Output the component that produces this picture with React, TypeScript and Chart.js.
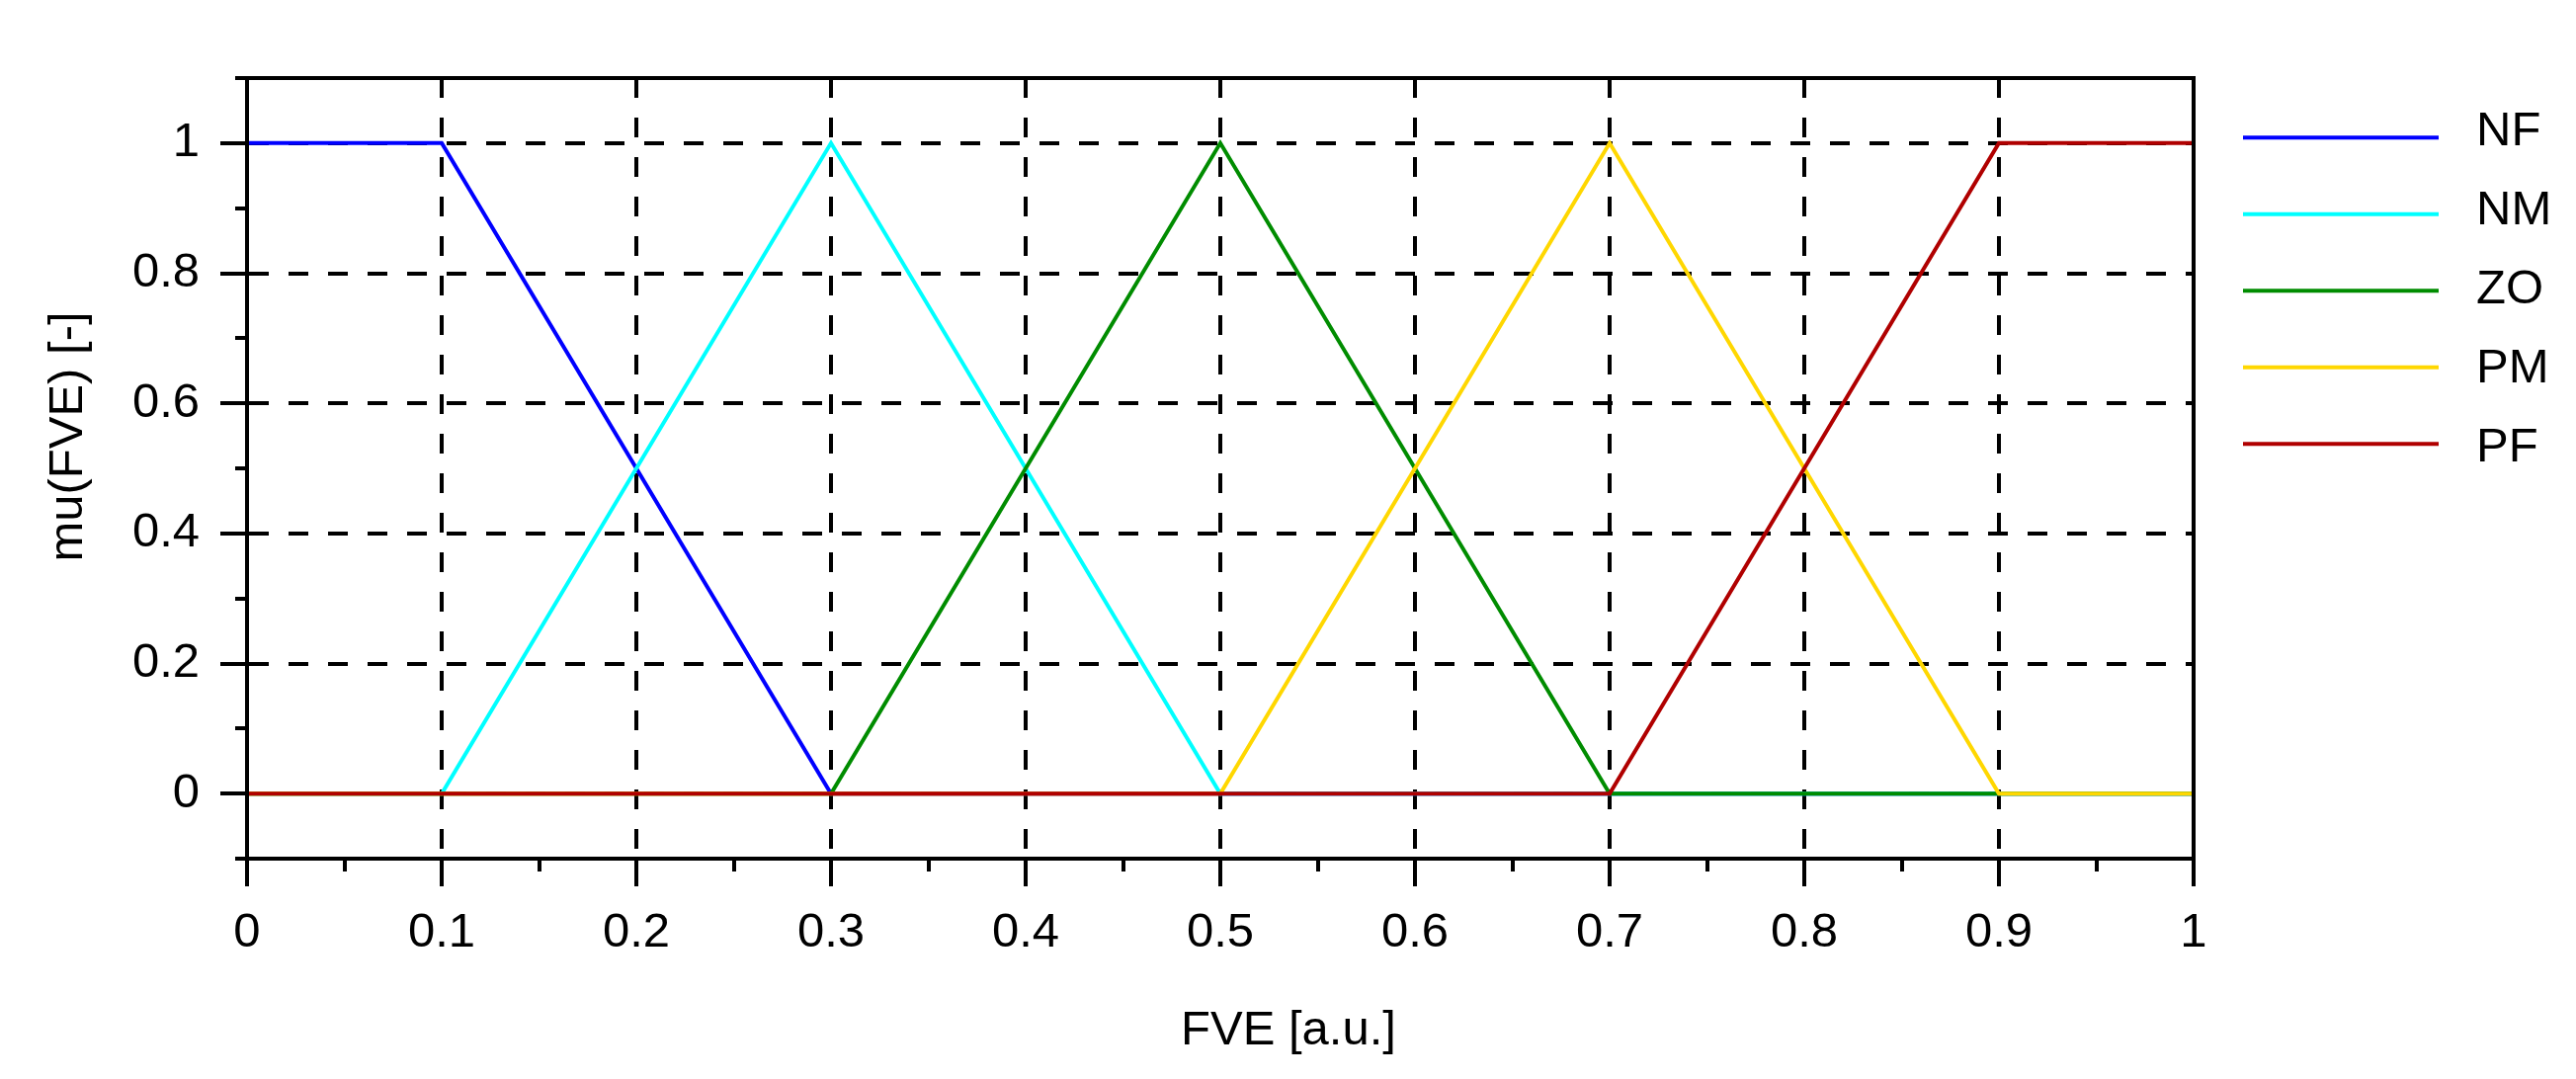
import React, { useEffect, useRef } from "react";
import { Chart, registerables } from "chart.js";

Chart.register(...registerables);

// ---- data ----
const seriesNames = ["NF", "NM", "ZO", "PM", "PF"];
const seriesColors = ["#0000ff", "#00ffff", "#008c00", "#ffd700", "#b00000"];

const xNF = [0, 0.1, 0.3, 1];
const yNF = [1, 1, 0, 0];
const xNM = [0, 0.1, 0.3, 0.5, 1];
const yNM = [0, 0, 1, 0, 0];
const xZO = [0, 0.3, 0.5, 0.7, 1];
const yZO = [0, 0, 1, 0, 0];
const xPM = [0, 0.5, 0.7, 0.9, 1];
const yPM = [0, 0, 1, 0, 0];
const xPF = [0, 0.7, 0.9, 1];
const yPF = [0, 0, 1, 1];

const xTickValues = [0, 0.1, 0.2, 0.3, 0.4, 0.5, 0.6, 0.7, 0.8, 0.9, 1];
const xTickLabels = ["0", "0.1", "0.2", "0.3", "0.4", "0.5", "0.6", "0.7", "0.8", "0.9", "1"];
const xMinorTicks = [0.05, 0.15, 0.25, 0.35, 0.45, 0.55, 0.65, 0.75, 0.85, 0.95];
const yTickValues = [0, 0.2, 0.4, 0.6, 0.8, 1];
const yTickLabels = ["0", "0.2", "0.4", "0.6", "0.8", "1"];
const yMinorTicks = [-0.1, 0.1, 0.3, 0.5, 0.7, 0.9, 1.1];

const xTitle = "FVE [a.u.]";
const yTitle = "mu(FVE) [-]";

const FONT_FAMILY = '"Liberation Sans", Arial, sans-serif';
const FONT_SIZE = 49;

function zip(xs: number[], ys: number[]) {
  return xs.map((x, i) => ({ x, y: ys[i] }));
}

const decorPlugin = {
  id: "decor",
  afterDraw(chart: any) {
    const { ctx, chartArea } = chart;
    const xs = chart.scales.x;
    const ys = chart.scales.y;
    ctx.save();
    ctx.strokeStyle = "#000";
    ctx.lineWidth = 4;
    ctx.lineCap = "butt";
    // frame top/right
    ctx.beginPath();
    ctx.moveTo(chartArea.left - 12, chartArea.top);
    ctx.lineTo(chartArea.right + 2, chartArea.top);
    ctx.moveTo(chartArea.right, chartArea.top - 2);
    ctx.lineTo(chartArea.right, chartArea.bottom + 2);
    ctx.stroke();
    // minor ticks x
    ctx.beginPath();
    xMinorTicks.forEach((v) => {
      const px = Math.round(xs.getPixelForValue(v));
      ctx.moveTo(px, chartArea.bottom);
      ctx.lineTo(px, chartArea.bottom + 13);
    });
    // minor ticks y
    yMinorTicks.forEach((v) => {
      const py = Math.round(ys.getPixelForValue(v));
      ctx.moveTo(chartArea.left, py);
      ctx.lineTo(chartArea.left - 12, py);
    });
    ctx.stroke();

    // axis titles
    ctx.fillStyle = "#000";
    ctx.font = `${FONT_SIZE}px ${FONT_FAMILY}`;
    ctx.textAlign = "center";
    ctx.textBaseline = "alphabetic";
    ctx.fillText(xTitle, 1304, 1057);
    ctx.save();
    ctx.translate(83, 442);
    ctx.rotate(-Math.PI / 2);
    ctx.fillText(yTitle, 0, 0);
    ctx.restore();

    // legend
    ctx.textAlign = "left";
    seriesNames.forEach((name, i) => {
      const ly = 139.3 + i * 77.5;
      ctx.strokeStyle = seriesColors[i];
      ctx.lineWidth = 4;
      ctx.beginPath();
      ctx.moveTo(2270, ly);
      ctx.lineTo(2468, ly);
      ctx.stroke();
      ctx.fillStyle = "#000";
      ctx.fillText(name, 2506, 147 + i * 80);
    });
    ctx.restore();
  },
};

export default function App() {
  const canvasRef = useRef<HTMLCanvasElement | null>(null);

  useEffect(() => {
    document.body.style.margin = "0";
    document.body.style.overflow = "hidden";
    const canvas = canvasRef.current;
    if (!canvas) return;
    const xsets = [xNF, xNM, xZO, xPM, xPF];
    const ysets = [yNF, yNM, yZO, yPM, yPF];
    const chart = new Chart(canvas, {
      type: "line",
      data: {
        datasets: seriesNames.map((name, i) => ({
          label: name,
          data: zip(xsets[i], ysets[i]),
          borderColor: seriesColors[i],
          backgroundColor: seriesColors[i],
          borderWidth: 4,
          pointRadius: 0,
          tension: 0,
          fill: false,
          order: seriesNames.length - i,
        })),
      },
      options: {
        responsive: false,
        animation: false,
        devicePixelRatio: 1,
        layout: { padding: { left: 0, top: 79, right: 387, bottom: 0 } },
        plugins: {
          legend: { display: false },
          tooltip: { enabled: false },
          title: { display: false },
        },
        scales: {
          x: {
            type: "linear",
            min: 0,
            max: 1,
            afterBuildTicks: (scale: any) => {
              scale.ticks = xTickValues.map((v) => ({ value: v }));
            },
            afterFit: (scale: any) => {
              scale.height = 223;
            },
            ticks: {
              autoSkip: false,
              maxRotation: 0,
              minRotation: 0,
              padding: 18,
              color: "#000",
              font: { family: FONT_FAMILY, size: FONT_SIZE, lineHeight: 1.2 },
              callback: (_v: any, i: number) => xTickLabels[i],
            },
            grid: {
              color: (ctx: any) =>
                ctx.tick && (ctx.tick.value <= 0 || ctx.tick.value >= 1) ? "rgba(0,0,0,0)" : "#000",
              lineWidth: 4,
              tickLength: 28,
              tickWidth: 4,
              tickColor: "#000",
            },
            border: { display: true, color: "#000", width: 4, dash: [20, 20], z: 1 },
          },
          y: {
            type: "linear",
            min: -0.1,
            max: 1.1,
            afterBuildTicks: (scale: any) => {
              scale.ticks = yTickValues.map((v) => ({ value: v }));
            },
            afterFit: (scale: any) => {
              scale.width = 250;
            },
            ticks: {
              padding: 21,
              color: "#000",
              font: { family: FONT_FAMILY, size: FONT_SIZE, lineHeight: 1.2 },
              callback: (_v: any, i: number) => yTickLabels[i],
            },
            grid: {
              color: "#000",
              lineWidth: 4,
              tickLength: 27,
              tickWidth: 4,
              tickColor: "#000",
            },
            border: { display: true, color: "#000", width: 4, dash: [20, 20], z: 1 },
          },
        },
      },
      plugins: [decorPlugin],
    } as any);
    return () => chart.destroy();
  }, []);

  return (
    <div style={{ position: "absolute", left: 0, top: 0, width: 2607, height: 1092 }}>
      <canvas ref={canvasRef} width={2607} height={1092} style={{ width: 2607, height: 1092 }} />
    </div>
  );
}
